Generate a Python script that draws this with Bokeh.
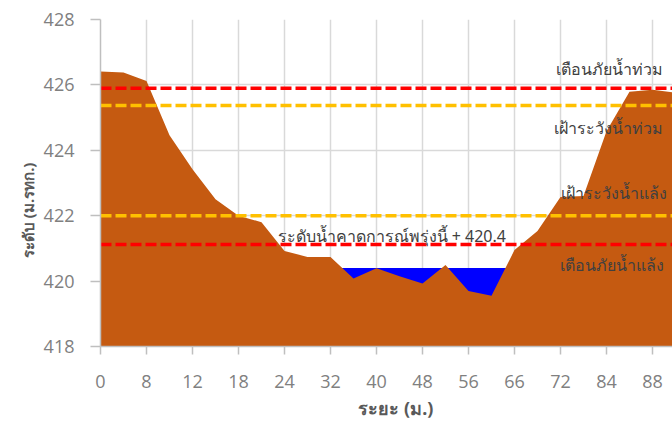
from bokeh.plotting import figure
from bokeh.models import Range1d, FixedTicker, Label, Title
from bokeh.embed import file_html
from bokeh.resources import INLINE

# ---- data ----
distance = [0, 4, 8, 10, 12, 15, 18, 21, 24, 28, 32, 36, 40, 44, 48, 52,
            56, 60, 66, 70, 72, 78, 84, 86, 88, 90]
elevation = [426.41, 426.38, 426.12, 424.46, 423.42, 422.5, 422.0, 421.8,
             420.92, 420.74, 420.74, 420.08, 420.39, 420.15, 419.93, 420.49,
             419.70, 419.55, 420.95, 421.53, 422.57, 422.6, 424.58, 425.79,
             425.85, 425.76]
water_level = 420.4
flood_warning = 425.9
flood_watch = 425.37
drought_watch = 422.0
drought_warning = 421.12
y_ticks = [418, 420, 422, 424, 426, 428]
x_title = "ระยะ (ม.)"
y_title = "ระดับ (ม.รทก.)"

idx = list(range(len(distance)))
label_idx = idx[::2]
label_map = {i: str(distance[i]) for i in label_idx}

FONT = "Open Sans"
THAI = "Noto Sans"
NBSP = "\u00a0"

p = figure(width=672, height=426, output_backend="svg", toolbar_location=None,
           x_range=Range1d(0, 24.87), y_range=Range1d(418, 428),
           min_border_left=100, min_border_right=0, min_border_top=19,
           min_border_bottom=80)
p.outline_line_color = None
p.background_fill_color = "white"

# water (drawn first, terrain covers where ground is higher)
wi = idx[10:19]
p.varea(x=wi, y1=[418] * len(wi), y2=[water_level] * len(wi), color="#0000FF")
# terrain
p.varea(x=idx, y1=[418] * len(idx), y2=elevation, color="#C55A11")

# threshold lines
def hline(val, color):
    p.line(x=[0, len(idx)], y=[val, val], line_color=color, line_width=3.5,
           line_dash="11 4")

hline(flood_watch, "#FFC000")
hline(flood_warning, "#FF0000")
hline(drought_watch, "#FFC000")
hline(drought_warning, "#FF0000")

def lab(x, y, text, align="right"):
    p.add_layout(Label(x=x, y=y, text=text, text_align=align,
                       text_baseline="middle", text_font=THAI,
                       text_font_size="16px", text_color="#404040"))

lab(24.45, 426.5, "เตือนภัยน้ำท่วม")
lab(24.45, 424.67, "เฝ้าระวังน้ำท่วม")
lab(24.65, 422.69, "เฝ้าระวังน้ำแล้ง")
lab(24.5, 420.49, "เตือนภัยน้ำแล้ง")
lab(7.7, 421.37, "ระดับน้ำคาดการณ์พรุ่งนี้ + " + "  " + str(water_level), align="left")

# axes
p.xaxis.ticker = FixedTicker(ticks=label_idx)
p.xaxis.major_label_overrides = label_map
p.yaxis.ticker = FixedTicker(ticks=y_ticks)
p.xgrid.ticker = FixedTicker(ticks=label_idx)
p.ygrid.ticker = FixedTicker(ticks=y_ticks)
for g in (p.xgrid, p.ygrid):
    g.grid_line_color = "#D9D9D9"
    g.grid_line_width = 1.5

for ax in (p.xaxis, p.yaxis):
    ax.axis_line_color = "#BFBFBF"
    ax.axis_line_width = 1.5
    ax.major_tick_line_color = "#BFBFBF"
    ax.major_tick_line_width = 1.5
    ax.minor_tick_line_color = None
    ax.major_tick_in = 0
    ax.major_label_text_font = FONT
    ax.major_label_text_font_size = "18px"
    ax.major_label_text_color = "#808080"

p.xaxis.major_tick_out = 8
p.yaxis.major_tick_out = 10
p.xaxis.major_label_standoff = 20
p.yaxis.major_label_standoff = 16

# axis titles as side titles; non-breaking padding nudges them to the original spot
p.add_layout(Title(text=NBSP * 4 + x_title, align="center", standoff=6,
                   text_font=THAI, text_font_size="18px", text_font_style="bold",
                   text_color="#595959"), "below")
p.add_layout(Title(text=y_title + NBSP * 14, align="center", standoff=6,
                   text_font=THAI, text_font_size="15px", text_font_style="bold",
                   text_color="#595959"), "left")

open("out.html", "w").write(file_html(p, INLINE))
